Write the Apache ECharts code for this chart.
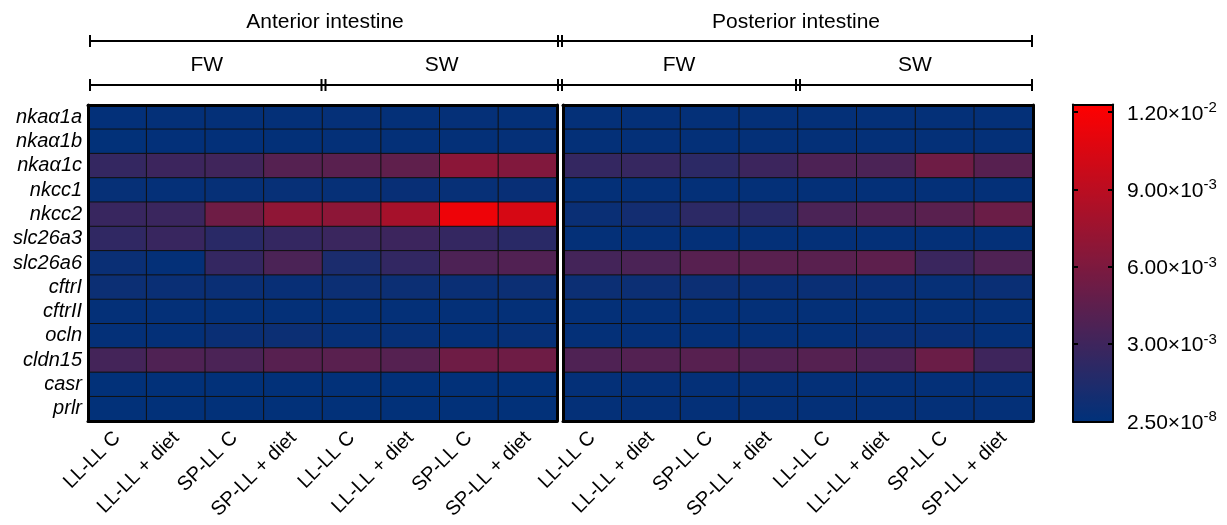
<!DOCTYPE html>
<html>
<head>
<meta charset="utf-8">
<script src="https://cdn.jsdelivr.net/npm/echarts@6/dist/echarts.min.js"></script>
<style>
  html, body { margin: 0; padding: 0; background: #fff; }
  #heat-chart { width: 1227px; height: 525px; }
</style>
</head>
<body>
<div id="heat-chart"></div>
<script>
// column labels (same 8 groups in each intestine part)
var groups = ['LL-LL C', 'LL-LL + diet', 'SP-LL C', 'SP-LL + diet', 'LL-LL C', 'LL-LL + diet', 'SP-LL C', 'SP-LL + diet'];
var genes = ['nkaα1a', 'nkaα1b', 'nkaα1c', 'nkcc1', 'nkcc2', 'slc26a3', 'slc26a6', 'cftrI', 'cftrII', 'ocln', 'cldn15', 'casr', 'prlr'];

// relative expression x 1e-3, one row per gene (FW: 4 first, SW: 4 last)
var anterior = [
  [0.15, 0.18, 0.20, 0.17, 0.22, 0.20, 0.25, 0.20],
  [0.12, 0.15, 0.14, 0.16, 0.20, 0.18, 0.20, 0.22],
  [2.5, 2.9, 3.1, 4.1, 4.3, 4.6, 6.7, 6.2],
  [0.30, 0.25, 0.30, 0.35, 0.30, 0.40, 0.35, 0.40],
  [2.7, 2.8, 5.3, 6.9, 6.8, 8.0, 11.5, 10.3],
  [2.3, 2.7, 2.0, 2.5, 2.8, 2.9, 2.5, 2.0],
  [0.5, 0.2, 2.5, 3.6, 1.3, 2.4, 3.7, 3.9],
  [0.6, 0.5, 0.5, 0.4, 0.6, 0.6, 0.5, 0.6],
  [0.20, 0.20, 0.20, 0.20, 0.20, 0.20, 0.20, 0.20],
  [0.2, 0.2, 0.5, 0.6, 0.3, 0.3, 0.2, 0.3],
  [3.3, 3.8, 3.6, 4.2, 4.3, 4.1, 5.3, 5.3],
  [0.10, 0.10, 0.10, 0.10, 0.10, 0.10, 0.10, 0.10],
  [0.10, 0.10, 0.10, 0.10, 0.10, 0.10, 0.10, 0.10]
];
var posterior = [
  [0.20, 0.20, 0.20, 0.20, 0.20, 0.20, 0.20, 0.20],
  [0.20, 0.20, 0.20, 0.20, 0.20, 0.20, 0.20, 0.20],
  [2.5, 2.6, 2.1, 2.9, 3.7, 3.6, 5.3, 4.2],
  [0.20, 0.20, 0.20, 0.20, 0.20, 0.20, 0.20, 0.20],
  [0.5, 0.9, 2.1, 2.0, 3.6, 4.0, 4.3, 5.1],
  [0.20, 0.20, 0.20, 0.20, 0.20, 0.20, 0.20, 0.20],
  [3.3, 3.6, 4.2, 4.3, 4.3, 4.5, 2.8, 3.8],
  [0.6, 0.6, 0.6, 0.4, 0.5, 0.4, 0.3, 0.5],
  [0.20, 0.20, 0.20, 0.20, 0.20, 0.20, 0.20, 0.20],
  [0.2, 0.2, 0.2, 0.2, 0.2, 0.4, 0.4, 0.2],
  [3.8, 4.0, 4.2, 3.9, 4.1, 3.7, 5.1, 3.0],
  [0.20, 0.20, 0.20, 0.20, 0.20, 0.20, 0.20, 0.20],
  [0.20, 0.20, 0.20, 0.20, 0.20, 0.20, 0.20, 0.20]
];

// colour scale
var scaleMax = 0.0123;
var scaleTicks = [0, 0.003, 0.006, 0.009, 0.012];
var scaleLabels = [['2.50×10', '-8'], ['3.00×10', '-3'], ['6.00×10', '-3'], ['9.00×10', '-3'], ['1.20×10', '-2']];

function toCells(rows) {
  var out = [];
  rows.forEach(function (row, y) {
    row.forEach(function (v, x) { out.push([x, y, v / 1000]); });
  });
  return out;
}

var font = 'Liberation Sans, Arial, sans-serif';
var black = '#000';

// layout
var top0 = 105, h0 = 316;
var leftA = 88, wA = 469;
var leftP = 563, wP = 470;

var thick = { show: true, lineStyle: { color: black, width: 3 } };

function catAxis(grid, pos, data, extra) {
  var a = {
    type: 'category', gridIndex: grid, position: pos, data: data, z: 5,
    axisLine: thick, axisTick: { show: false }, axisLabel: { show: false },
    splitLine: { show: false }
  };
  if (pos == 'left' || pos == 'right') a.inverse = true;
  for (var k in extra) a[k] = extra[k];
  return a;
}

var xLabel = { show: true, interval: 0, rotate: 45, margin: 14, fontSize: 20, color: black, fontFamily: font };
var yLabel = { show: true, interval: 0, fontSize: 20, fontStyle: 'italic', color: black, fontFamily: font, margin: 6 };

// brackets on top
var yTop = 41, yMid = 85;
var xs = 90, xe = 1032, xSplit = 560, xA = leftA + wA / 2 + 1, xP = leftP + wP / 2;
var graphics = [];
function hline(y) {
  graphics.push({ type: 'line', shape: { x1: xs, y1: y, x2: xe, y2: y }, style: { stroke: black, lineWidth: 2 } });
  [xs, xe].forEach(function (x) {
    graphics.push({ type: 'line', shape: { x1: x, y1: y - 6, x2: x, y2: y + 6 }, style: { stroke: black, lineWidth: 2 } });
  });
}
function dbar(x, y) {
  [x - 2, x + 2].forEach(function (xx) {
    graphics.push({ type: 'line', shape: { x1: xx, y1: y - 6, x2: xx, y2: y + 6 }, style: { stroke: black, lineWidth: 2 } });
  });
}
function label(txt, x, y) {
  graphics.push({ type: 'text', x: x, y: y, style: { text: txt, fontSize: 21, fontFamily: font, fill: black, textAlign: 'center', textVerticalAlign: 'middle' } });
}
hline(yTop); hline(yMid);
dbar(xSplit, yTop); dbar(xA, yMid); dbar(xSplit, yMid); dbar(xP, yMid);
label('Anterior intestine', (xs + xSplit) / 2, 22);
label('Posterior intestine', (xSplit + xe) / 2, 22);
label('FW', (xs + xA) / 2, 65);
label('SW', (xA + xSplit) / 2, 65);
label('FW', (xSplit + xP) / 2, 65);
label('SW', (xP + xe) / 2, 65);

var chart = echarts.init(document.getElementById('heat-chart'));
var option = {
  animation: false,
  textStyle: { fontFamily: font },
  grid: [
    { left: leftA, top: top0, width: wA, height: h0 },
    { left: leftP, top: top0, width: wP, height: h0 },
    { left: 1073, top: 104.5, width: 40, height: 317 }
  ],
  xAxis: [
    catAxis(0, 'bottom', groups, { axisLabel: xLabel }),
    catAxis(0, 'top', groups),
    catAxis(1, 'bottom', groups, { axisLabel: xLabel }),
    catAxis(1, 'top', groups),
    // colour bar frame
    { type: 'category', gridIndex: 2, position: 'bottom', data: [''], z: 10, axisLine: { onZero: false, lineStyle: { color: black, width: 2 } }, axisTick: { show: false }, axisLabel: { show: false } },
    { type: 'category', gridIndex: 2, position: 'top', data: [''], z: 10, axisLine: { onZero: false, lineStyle: { color: black, width: 2 } }, axisTick: { show: false }, axisLabel: { show: false } }
  ],
  yAxis: [
    catAxis(0, 'left', genes, { axisLabel: yLabel }),
    catAxis(0, 'right', genes),
    catAxis(1, 'left', genes),
    catAxis(1, 'right', genes),
    {
      type: 'value', gridIndex: 2, position: 'right', min: 0, max: scaleMax, z: 10,
      splitLine: { show: false },
      axisLine: { show: true, lineStyle: { color: black, width: 2 } },
      axisTick: { show: true, inside: true, length: 5, customValues: scaleTicks, lineStyle: { color: black, width: 2 } },
      axisLabel: {
        show: true, margin: 14, customValues: scaleTicks, color: black,
        formatter: function (v) {
          var i = scaleTicks.indexOf(v);
          if (i < 0) return '';
          return '{b|' + scaleLabels[i][0] + '}{s|' + scaleLabels[i][1] + '}';
        },
        rich: {
          b: { fontSize: 21, fontFamily: font, color: black, lineHeight: 24, verticalAlign: 'bottom' },
          s: { fontSize: 15, fontFamily: font, color: black, lineHeight: 15, verticalAlign: 'top' }
        }
      }
    },
    {
      type: 'value', gridIndex: 2, position: 'left', min: 0, max: scaleMax, z: 10,
      splitLine: { show: false },
      axisLine: { show: true, lineStyle: { color: black, width: 2 } },
      axisTick: { show: true, inside: true, length: 5, customValues: scaleTicks, lineStyle: { color: black, width: 2 } },
      axisLabel: { show: false }
    }
  ],
  visualMap: {
    type: 'continuous', min: 0, max: scaleMax, seriesIndex: [0, 1],
    orient: 'vertical', left: 1073, top: 104.5, itemWidth: 40, itemHeight: 317,
    padding: 0, text: null, calculable: false, hoverLink: false, z: 1,
    inRange: { color: ['#00317a', '#ff0000'] }
  },
  graphic: graphics,
  series: [
    {
      name: 'Anterior intestine', type: 'heatmap', xAxisIndex: 0, yAxisIndex: 0,
      data: toCells(anterior),
      itemStyle: { borderColor: '#111', borderWidth: 1 },
      emphasis: { disabled: true }
    },
    {
      name: 'Posterior intestine', type: 'heatmap', xAxisIndex: 2, yAxisIndex: 2,
      data: toCells(posterior),
      itemStyle: { borderColor: '#111', borderWidth: 1 },
      emphasis: { disabled: true }
    }
  ]
};
chart.setOption(option);
</script>
</body>
</html>
